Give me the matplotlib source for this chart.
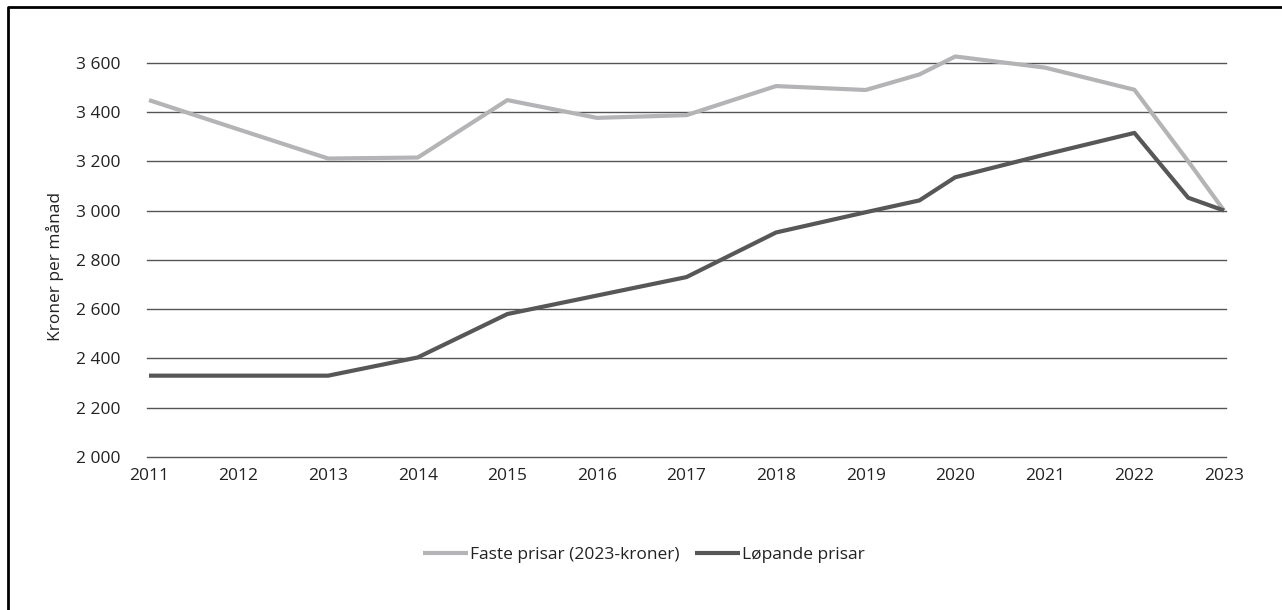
import matplotlib
matplotlib.use('Agg')
import matplotlib.pyplot as plt
from matplotlib.lines import Line2D

plt.rcParams['font.family'] = ['Open Sans', 'DejaVu Sans']

# year positions (two mid-year points, 2019.6 and 2022.6)
years = [2011, 2012, 2013, 2014, 2015, 2016, 2017, 2018, 2019, 2019.6,
         2020, 2021, 2022, 2022.6, 2023]
faste = [3448, 3329, 3211, 3215, 3448, 3376, 3387, 3505, 3489, 3552,
         3625, 3580, 3490, 3200, 3000]
lopande = [2330, 2330, 2330, 2404, 2580, 2655, 2730, 2911, 2993, 3041,
           3135, 3227, 3315, 3052, 3000]
xticks = list(range(2011, 2024))
yticks = list(range(2000, 3601, 200))

fig = plt.figure(figsize=(12.82, 6.10), dpi=100)
ax = fig.add_axes([147/1282, 1 - 457/610, (1226 - 147)/1282, (457 - 38)/610])

ax.plot(years, faste, color='#b4b4b6', lw=3, solid_capstyle='butt',
        label='Faste prisar (2023-kroner)', zorder=3)
ax.plot(years, lopande, color='#575757', lw=3, solid_capstyle='butt',
        label='Løpande prisar', zorder=4)

ax.set_xlim(2011 - 2/89.6, 2023 + 2/89.6)
ax.set_ylim(2000, 3700)
ax.set_xticks(xticks)
ax.set_yticks(yticks)
ax.set_yticklabels([f'{v // 1000} {v % 1000:03d}' for v in yticks])
ax.tick_params(length=0, labelsize=12.5, colors='#222222')
ax.tick_params(axis='y', pad=19)
ax.tick_params(axis='x', pad=8)
for s in ax.spines.values():
    s.set_visible(False)
for v in yticks:
    ax.axhline(v, color='#555555', lw=1.0, zorder=1, clip_on=False)

fig.text(55/1282, 1 - 266/610, 'Kroner per månad', rotation=90,
         ha='center', va='center', fontsize=12.5, color='#222222')

leg = fig.legend(loc='center', bbox_to_anchor=(644/1282, 1 - 555/610),
                 ncol=2, frameon=False, fontsize=12.5, handlelength=2.6,
                 handletextpad=0.1, columnspacing=0.9)
for t in leg.get_texts():
    t.set_color('#222222')

# frame on left and top edges
fig.add_artist(Line2D([8/1282, 8/1282, 1.0], [0.0, 1 - 7/610, 1 - 7/610],
                      transform=fig.transFigure, color='black', lw=2))

fig.savefig('out.png', dpi=100, facecolor='white')
